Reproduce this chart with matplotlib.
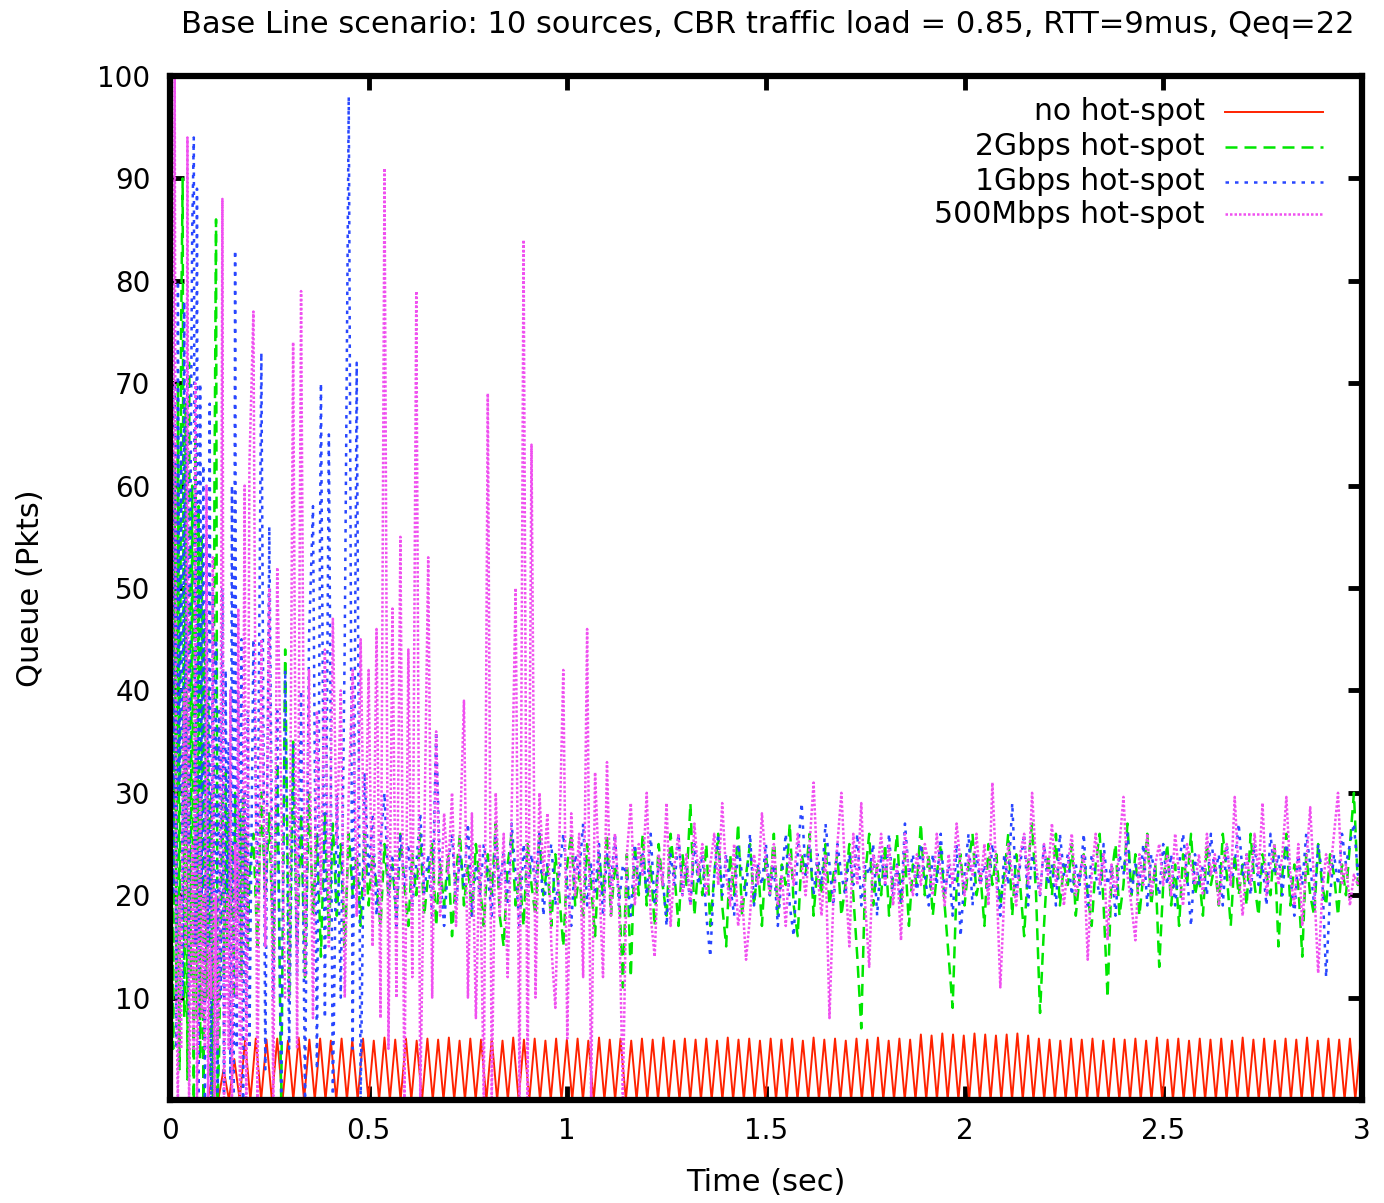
import matplotlib.pyplot as plt
import numpy as np

plt.rcParams['font.family'] = ['DejaVu Sans']

title = "Base Line scenario: 10 sources, CBR traffic load = 0.85, RTT=9mus, Qeq=22"
labels = ["no hot-spot", "2Gbps hot-spot", "1Gbps hot-spot", "500Mbps hot-spot"]
colors = ["#ff2200", "#00e600", "#2846ff", "#f050f0"]

# sampling steps (sec)
dt_red = 0.0135
dt_early = 0.004   # transient part, 0 .. 0.2 s
dt = 0.01          # from 0.2 s on
t_switch = 0.2

# no hot-spot: small sawtooth 0..6 pkts
q_none = [0, 0, 0, 0, 0, 0, 0, 0, 2.5, 0, 3, 0, 4, 0,
          5.8, 0, 6, 0, 5.9, 0, 6, 0, 5.8, 0, 6.1, 0, 5.9, 0, 6, 0, 5.8, 0, 6, 0,
          5.9, 0, 6, 0, 5.8, 0, 6.1, 0, 5.9, 0, 6, 0, 5.8, 0, 6, 0, 5.9, 0, 6.1, 0,
          5.8, 0, 6, 0, 5.9, 0, 6, 0, 5.8, 0, 6.1, 0, 5.9, 0, 6, 0, 5.8, 0, 6, 0,
          5.9, 0, 6, 0, 5.8, 0, 6.1, 0, 5.9, 0, 6, 0, 5.8, 0, 6, 0, 5.9, 0, 6.1, 0,
          5.8, 0, 6, 0, 5.9, 0, 6, 0, 5.8, 0, 6.1, 0, 5.9, 0, 6, 0, 5.8, 0, 6, 0,
          5.9, 0, 6, 0, 5.8, 0, 6.1, 0, 5.9, 0, 6, 0, 5.8, 0, 6, 0, 5.9, 0, 6.1, 0,
          5.8, 0, 6, 0, 5.9, 0, 6.4, 0, 6.3, 0, 6.5, 0, 6.4, 0, 6.3, 0, 6.5, 0, 6.4, 0,
          6.3, 0, 6.4, 0, 6.5, 0, 6.3, 0, 6, 0, 5.9, 0, 5.8, 0, 6, 0, 5.9, 0, 6, 0,
          5.8, 0, 6, 0, 5.9, 0, 6, 0, 5.8, 0, 6.1, 0, 5.9, 0, 6, 0, 5.8, 0, 6, 0,
          5.9, 0, 6, 0, 5.8, 0, 6.1, 0, 5.9, 0, 6, 0, 5.8, 0, 6, 0, 5.9, 0, 6.1, 0,
          5.8, 0, 6, 0, 5.9, 0, 6, 0, 5.8, 0, 6.1, 0, 5.9, 0, 6, 0, 5.8, 0, 6, 0]

# 2Gbps hot-spot
q_2g_early = [0, 40, 5, 62, 10, 70, 3, 75, 90, 8,
              68, 2, 72, 12, 60, 0, 65, 8, 58, 4,
              55, 0, 48, 10, 40, 2, 30, 0, 60, 86,
              0, 5, 20, 30, 12, 32, 15, 28, 18, 25,
              10, 30, 22, 18, 28, 12, 30, 20, 26, 15]
q_2g = [22, 26, 15, 30, 20, 28, 14, 33, 0, 44,
        10, 35, 15, 28, 12, 30, 18, 26, 14, 28,
        16, 27, 18, 25, 15, 26, 20, 24, 17, 26,
        19, 24, 21, 17, 25, 20, 23, 18, 26, 21,
        17, 24, 20, 26, 18, 22, 25, 17, 23, 19,
        24, 16, 22, 26, 19, 23, 18, 25, 21, 17,
        24, 20, 27, 18, 15, 23, 26, 19, 22, 17,
        25, 21, 18, 26, 20, 23, 17, 24, 20, 15,
        23, 26, 19, 22, 18, 25, 21, 16, 24, 20,
        26, 18, 23, 21, 11, 24, 12, 25, 20, 26,
        19, 23, 17, 25, 21, 18, 26, 22, 17, 24,
        21, 29, 18, 23, 20, 25, 17, 22, 26, 19,
        15, 24, 20, 27, 18, 22, 25, 19, 23, 17,
        24, 20, 26, 18, 23, 21, 27, 19, 16, 24,
        22, 26, 18, 23, 20, 25, 19, 22, 24, 18,
        21, 25, 20, 14, 7, 22, 26, 19, 23, 20,
        25, 18, 22, 26, 19, 24, 17, 23, 21, 27,
        20, 24, 18, 22, 25, 19, 14, 9, 21, 24,
        19, 23, 26, 20, 22, 17, 25, 21, 24, 19,
        22, 26, 18, 24, 21, 16, 23, 27, 20, 8.5,
        17, 24, 20, 26, 19, 23, 21, 25, 18, 22,
        24, 20, 17, 23, 26, 19, 10, 22, 25, 18,
        21, 27, 20, 24, 18, 22, 26, 19, 23, 13,
        21, 25, 19, 23, 17, 24, 21, 26, 20, 22,
        18, 25, 21, 23, 19, 26, 22, 17, 24, 20,
        23, 19, 26, 21, 18, 24, 22, 20, 25, 15,
        22, 26, 19, 23, 21, 14, 24, 20, 18, 25,
        21, 19, 24, 22, 18, 23, 20, 25, 30, 21, 23]

# 1Gbps hot-spot
q_1g_early = [0, 86, 20, 70, 5, 80, 30, 65, 10, 78,
              25, 72, 8, 60, 85, 94, 15, 89, 0, 70,
              20, 62, 0, 55, 15, 68, 0, 50, 20, 45,
              0, 38, 10, 50, 0, 42, 20, 35, 2, 60,
              0, 83, 5, 40, 12, 45, 0, 30, 8, 38]
q_1g = [5, 45, 20, 73, 3, 56, 10, 38, 0, 42,
        5, 35, 12, 40, 0, 45, 58, 3, 70, 8,
        65, 0, 30, 10, 45, 98, 5, 72, 0, 32,
        22, 28, 18, 25, 30, 20, 24, 17, 26, 21,
        25, 19, 23, 28, 20, 24, 18, 36, 22, 17,
        23, 26, 19, 24, 21, 27, 18, 23, 20, 25,
        22, 18, 26, 21, 24, 19, 27, 22, 17, 25,
        20, 24, 21, 26, 18, 23, 25, 19, 22, 26,
        21, 17, 24, 22, 27, 19, 23, 20, 25, 18,
        24, 21, 26, 19, 23, 22, 18, 25, 21, 24,
        20, 26, 19, 23, 22, 17, 24, 21, 26, 20,
        23, 19, 25, 21, 24, 18, 14, 22, 26, 20,
        24, 21, 18, 25, 22, 20, 26, 19, 23, 21,
        25, 20, 23, 17, 22, 26, 19, 16, 24, 29,
        22, 25, 20, 24, 21, 27, 23, 19, 25, 22,
        20, 24, 21, 26, 19, 23, 22, 25, 18, 24,
        21, 26, 20, 23, 19, 27, 22, 24, 20, 25,
        22, 19, 24, 21, 26, 20, 23, 18, 25, 16,
        22, 26, 19, 24, 21, 23, 20, 25, 22, 18,
        24, 21, 29, 20, 23, 26, 19, 24, 22, 20,
        25, 21, 23, 19, 26, 22, 24, 20, 23, 21,
        26, 19, 24, 22, 20, 25, 21, 23, 18, 24,
        22, 26, 20, 23, 21, 25, 19, 24, 22, 20,
        25, 21, 24, 19, 23, 26, 22, 17, 24, 21,
        23, 20, 26, 22, 24, 19, 25, 21, 23, 27,
        22, 24, 20, 25, 21, 23, 19, 26, 22, 24,
        20, 25, 22, 18, 24, 21, 26, 23, 19, 25,
        22, 12, 20, 24, 21, 26, 23, 25, 27, 22, 24]

# 500Mbps hot-spot
q_500m_early = [0, 30, 60, 100, 10, 0, 20, 5, 30, 40,
                15, 94, 0, 10, 25, 5, 70, 0, 12, 30,
                8, 20, 5, 60, 0, 15, 10, 53, 0, 20,
                5, 10, 35, 88, 0, 10, 20, 5, 40, 0,
                15, 25, 10, 48, 0, 5, 30, 60, 0, 20]
q_500m = [62, 77, 0, 45, 15, 50, 0, 52, 30, 10,
          10, 74, 5, 79, 12, 42, 8, 38, 20, 44,
          15, 47, 25, 40, 10, 30, 42, 18, 45, 20,
          42, 15, 46, 8, 91, 5, 48, 10, 55, 0,
          44, 12, 79, 0, 25, 53, 10, 36, 18, 28,
          22, 30, 17, 26, 39, 10, 28, 8, 25, 0,
          69, 0, 30, 18, 26, 12, 28, 50, 0, 84,
          0, 64, 10, 30, 22, 28, 15, 9, 25, 42,
          6, 28, 20, 26, 12, 46, 0, 32, 22, 12,
          33, 18, 26, 20, 0, 24, 29, 19, 25, 22,
          30, 18, 14, 24, 21, 29, 17, 23, 26, 20,
          24, 19, 27, 22, 25, 20, 23, 26, 21, 29,
          22, 19, 25, 17, 20, 13.7, 18, 24, 21, 28,
          23, 20, 25, 19, 22, 17, 24, 21, 26, 23,
          20, 25, 31, 22, 18, 24, 8, 20, 25, 30,
          22, 15, 26, 21, 29, 19, 13, 24, 22, 26,
          21, 25, 19, 23, 15.6, 26, 22, 20, 24, 21,
          25, 23, 20, 26, 22, 19, 24, 21, 27, 23,
          20, 24, 22, 26, 21, 25, 19, 31, 22, 11,
          20, 25, 22, 19, 24, 26, 21, 30, 23, 20,
          25, 22, 27, 21, 24, 19, 23, 26, 20, 22,
          24, 13.7, 22, 26, 21, 24, 15.6, 23, 20, 25,
          29.6, 22, 19, 15.6, 24, 21, 26, 20, 23, 25,
          21, 24, 20, 26, 22, 19, 25, 23, 21, 24,
          20, 26, 22, 24, 19, 23, 25, 21, 29.6, 22,
          18, 24, 21, 26, 22, 29, 20, 23, 25, 21,
          24, 29.6, 22, 19, 25, 17, 23, 28.6, 21, 12.4,
          20, 24, 22, 26, 30, 21, 23, 19, 22, 21, 23]


def time_axis(early, late):
    t1 = np.arange(len(early)) * dt_early
    t2 = t_switch + np.arange(len(late)) * dt
    return np.concatenate([t1, t2]), list(early) + list(late)


fig = plt.figure(figsize=(13.84, 12.03), dpi=100)
ax = fig.add_axes([0.1228, 0.0856, 0.8612, 0.8512])

styles = ['-', (0, (4.8, 2.8)), (0, (1.4, 2.4)), (0, (1.0, 0.8))]
widths = [1.4, 1.8, 1.8, 1.8]

t_r = np.arange(len(q_none)) * dt_red
ax.plot(t_r, q_none, color=colors[0], linestyle=styles[0], linewidth=widths[0])
for k, (early, late) in enumerate([(q_2g_early, q_2g), (q_1g_early, q_1g),
                                   (q_500m_early, q_500m)], start=1):
    t, q = time_axis(early, late)
    ax.plot(t, q, color=colors[k], linestyle=styles[k], linewidth=widths[k])

ax.set_xlim(0, 3)
ax.set_ylim(0, 100)
ax.set_xticks([0, 0.5, 1, 1.5, 2, 2.5, 3])
ax.set_xticklabels(["0", "0.5", "1", "1.5", "2", "2.5", "3"])
ax.set_yticks(range(10, 101, 10))
ax.tick_params(direction='in', top=True, right=True, length=10, width=3.5,
               labelsize=20, color='black')
ax.tick_params(axis='x', pad=12)
ax.tick_params(axis='y', pad=14)
for s in ax.spines.values():
    s.set_linewidth(4.5)

ax.set_xlabel("Time (sec)", fontsize=22, va='center')
ax.xaxis.set_label_coords(0.5, -0.081)
ax.set_ylabel("Queue (Pkts)", fontsize=22, va='center')
ax.yaxis.set_label_coords(-0.117, 0.5)

fig.text(0.555, 0.980, title, fontsize=22, ha='center', va='center')

# gnuplot style key: right-aligned text, sample line to its right
key_y = [0.965, 0.931, 0.897, 0.865]
for lab, c, ls, lw, y in zip(labels, colors, styles, widths, key_y):
    ax.text(0.868, y, lab, transform=ax.transAxes, ha='right', va='center', fontsize=21.5)
    ax.plot([0.885, 0.967], [y, y], transform=ax.transAxes, color=c, linestyle=ls, linewidth=lw)

fig.savefig("out.png", dpi=100)
